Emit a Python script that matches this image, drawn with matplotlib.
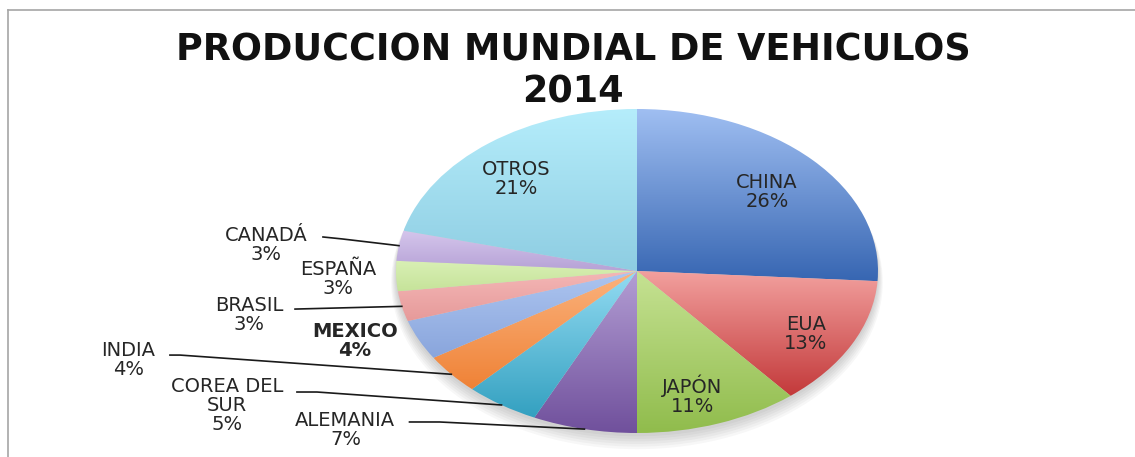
import matplotlib.pyplot as plt
import numpy as np
from matplotlib.lines import Line2D
from matplotlib.patches import Ellipse
from matplotlib.colors import to_rgb

# ── Datos ──
paises = ['CHINA', 'EUA', 'JAPÓN', 'ALEMANIA', 'COREA DEL\nSUR', 'INDIA',
          'MEXICO', 'BRASIL', 'ESPAÑA', 'CANADÁ', 'OTROS']
porcentajes = [26, 13, 11, 7, 5, 4, 4, 3, 3, 3, 21]
titulo = "PRODUCCION MUNDIAL DE VEHICULOS\n2014"

# ── Estilo: color claro (arriba) y oscuro (abajo) de cada rebanada ──
color_arriba = ['#a0bff2', '#f2a09e', '#c6e293', '#b39ed4', '#93dbf2', '#fbb37e',
                '#adc5f0', '#f4b7b6', '#d9f0b5', '#d5c6ec', '#b5edfb']
color_abajo = ['#3766b2', '#c3393a', '#90bc4c', '#70509c', '#33a0c0', '#ef8236',
               '#89a5dc', '#e69a9a', '#c6e39a', '#b6a2d6', '#8ecde2']

# posiciones de etiquetas (coordenadas del pastel) y líneas guía
pos_etiqueta = [(0.54, 0.49), (0.70, -0.39), (0.23, -0.77), (-1.21, -0.98),
                (-1.70, -0.83), (-2.11, -0.55), (-1.17, -0.43), (-1.61, -0.27),
                (-1.24, -0.05), (-1.54, 0.16), (-0.50, 0.57)]
guia = {3: [(-0.944, -0.932), (-0.819, -0.932)],
        4: [(-1.411, -0.747), (-1.328, -0.747)],
        5: [(-1.938, -0.519), (-1.896, -0.519)],
        7: [(-1.419, -0.235)],
        9: [(-1.303, 0.210), (-1.224, 0.198)]}

W, H = 1135, 457
fig = plt.figure(figsize=(W / 100, H / 100), dpi=100)

# marco del gráfico
gris = '#a6a6a6'
fig.add_artist(Line2D([8 / W, 1], [1 - 10 / H, 1 - 10 / H], color=gris, lw=1.2))
fig.add_artist(Line2D([8 / W, 8 / W], [0, 1 - 10 / H], color=gris, lw=1.2))

cx, cy, rx, ry = 637, 271, 241, 162
ax = fig.add_axes([(cx - rx) / W, (H - cy - ry) / H, 2 * rx / W, 2 * ry / H])

# sombra suave bajo el pastel
for k in range(6):
    ax.add_patch(Ellipse((0.0, -0.02 - 0.01 * k), 2 + 0.008 * k, 2 + 0.012 * k,
                         facecolor='#000000', alpha=0.03, lw=0, zorder=1,
                         clip_on=False))

wedges, _ = ax.pie(porcentajes, startangle=90, counterclock=False, radius=1,
                   wedgeprops=dict(linewidth=0))

# degradado vertical en cada rebanada
for w, c1, c2 in zip(wedges, color_arriba, color_abajo):
    bb = w.get_path().get_extents()
    t = np.linspace(0, 1, 256)[:, None]
    a, b = np.array(to_rgb(c2)), np.array(to_rgb(c1))
    img = a[None, None, :] * (1 - t[:, :, None]) + b[None, None, :] * t[:, :, None]
    img = np.repeat(img, 2, axis=1)
    im = ax.imshow(img, extent=[bb.x0, bb.x1, bb.y0, bb.y1], origin='lower',
                   aspect='auto', interpolation='bilinear', zorder=2)
    im.set_clip_path(w)
    w.set_facecolor('none')

ax.set_xlim(-1, 1)
ax.set_ylim(-1, 1)
ax.set_aspect('auto')
ax.axis('off')

# etiquetas
for i, (pais, pct) in enumerate(zip(paises, porcentajes)):
    x, y = pos_etiqueta[i]
    ax.text(x, y, f"{pais}\n{pct}%", ha='center', va='center', fontsize=14,
            color='#262626', linespacing=1.0, zorder=5,
            fontweight='bold' if pais == 'MEXICO' else 'normal')

for i, pts in guia.items():
    w = wedges[i]
    ang = np.deg2rad((w.theta1 + w.theta2) / 2)
    xs = [p[0] for p in pts] + [np.cos(ang)]
    ys = [p[1] for p in pts] + [np.sin(ang)]
    ax.plot(xs, ys, color='#1a1a1a', lw=1.2, clip_on=False, zorder=4)

fig.text(573 / W, 1 - 71 / H, titulo, ha='center', va='center', fontsize=26.3,
         fontweight='bold', color='#111111', linespacing=1.15)

fig.savefig('out.png', dpi=100)
